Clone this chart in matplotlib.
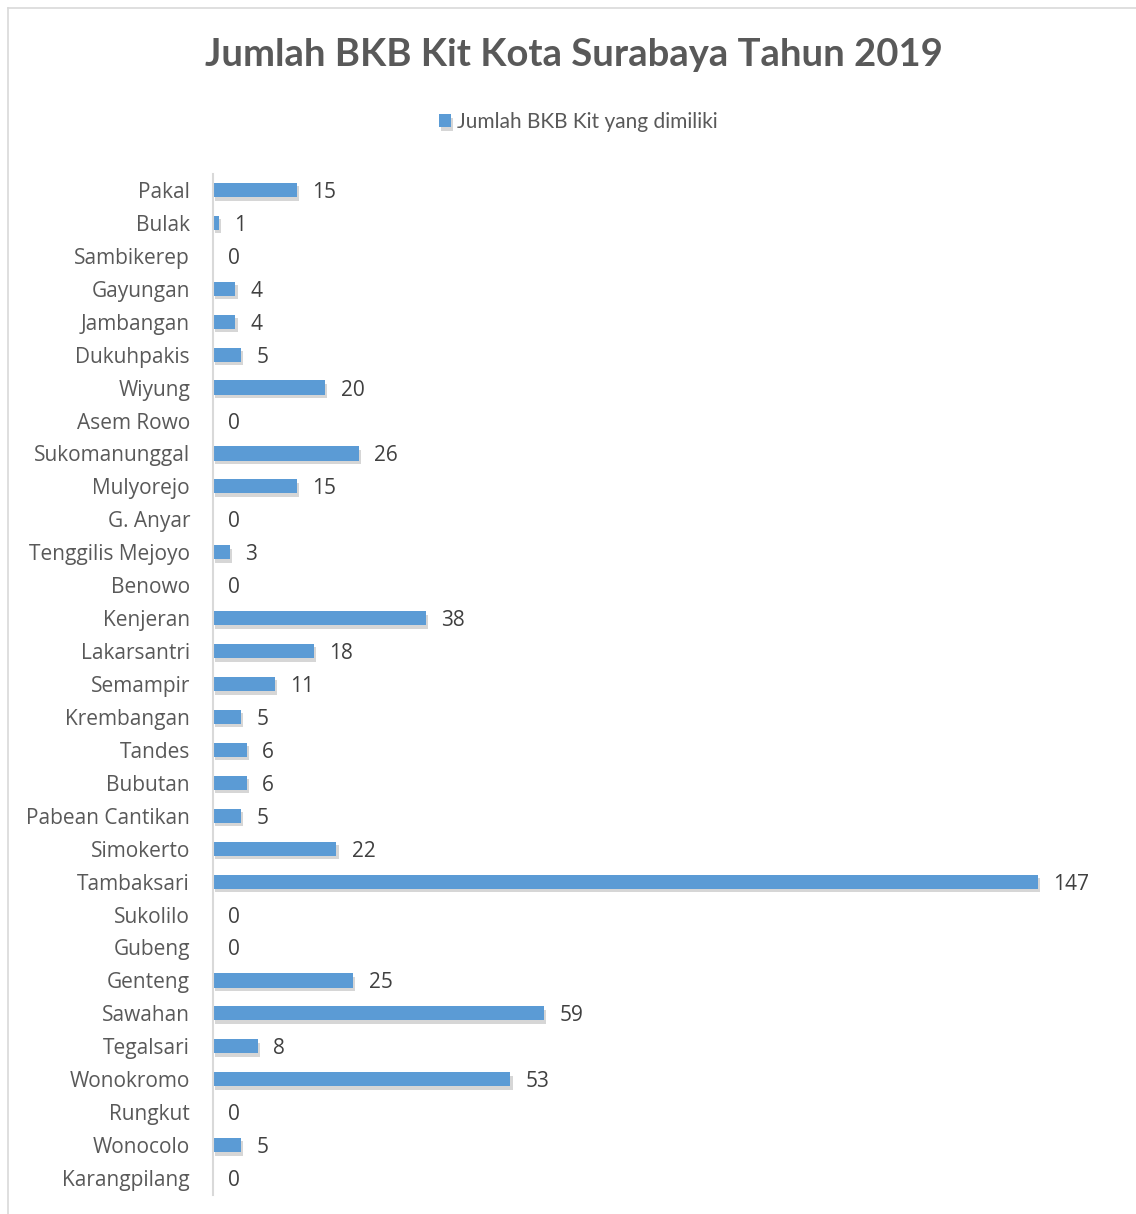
import matplotlib
matplotlib.use("Agg")
import matplotlib.pyplot as plt
from matplotlib.lines import Line2D
from matplotlib import patheffects as pe

categories = ["Pakal", "Bulak", "Sambikerep", "Gayungan", "Jambangan", "Dukuhpakis",
              "Wiyung", "Asem Rowo", "Sukomanunggal", "Mulyorejo", "G. Anyar",
              "Tenggilis Mejoyo", "Benowo", "Kenjeran", "Lakarsantri", "Semampir",
              "Krembangan", "Tandes", "Bubutan", "Pabean Cantikan", "Simokerto",
              "Tambaksari", "Sukolilo", "Gubeng", "Genteng", "Sawahan", "Tegalsari",
              "Wonokromo", "Rungkut", "Wonocolo", "Karangpilang"]
values = [15, 1, 0, 4, 4, 5, 20, 0, 26, 15, 0, 3, 0, 38, 18, 11, 5, 6, 6, 5, 22,
          147, 0, 0, 25, 59, 8, 53, 0, 5, 0]
series_name = "Jumlah BKB Kit yang dimiliki"
title = "Jumlah BKB Kit Kota Surabaya Tahun 2019"

W, H = 1136, 1214
fig = plt.figure(figsize=(W / 100, H / 100), dpi=100)
fig.patch.set_facecolor("white")

# outer border (light gray)
fig.add_artist(Line2D([8 / W, 1.0], [1 - 8 / H, 1 - 8 / H], color="#d9d9d9", lw=1.2,
                      transform=fig.transFigure))
fig.add_artist(Line2D([8 / W, 8 / W], [0, 1 - 8 / H], color="#d9d9d9", lw=1.2,
                      transform=fig.transFigure))

left, right = 213, 1120
top, bottom = 173.5, 1194.5
ax = fig.add_axes([left / W, 1 - bottom / H, (right - left) / W, (bottom - top) / H])
xmax = (right - left) / ((1038 - 213) / 147)

y = list(range(len(categories)))
bars = ax.barh(y, values, height=0.43, color="#5B9BD5", label=series_name,
               edgecolor="none")
for b in bars:
    b.set_path_effects([pe.SimplePatchShadow(offset=(1.5, -2.5), shadow_rgbFace="#8a8a8a",
                                             alpha=0.35), pe.Normal()])

ax.set_xlim(0, xmax)
ax.set_ylim(len(categories) - 0.5, -0.5)
ax.set_yticks(y)
ax.set_yticklabels(categories, fontsize=15, color="#595959", family="Open Sans")
ax.tick_params(axis="y", length=0, pad=16.5)
ax.set_xticks([])
for s in ["top", "right", "bottom"]:
    ax.spines[s].set_visible(False)
ax.spines["left"].set_color("#d9d9d9")
ax.spines["left"].set_linewidth(1.5)

texts = ax.bar_label(bars, labels=[str(v) for v in values], padding=11, fontsize=15,
                     color="#404040", family="Open Sans")
for t in texts:
    t.set_va("center_baseline")

fig.text(574 / W, 1 - 55 / H, title, ha="center", va="center", fontsize=27.5,
         fontweight="bold", color="#595959", family="Lato")

leg = fig.legend(handles=[bars], labels=[series_name], loc="center",
                 bbox_to_anchor=(578 / W, 1 - 122 / H), frameon=False,
                 prop={"family": "Lato", "size": 15}, handlelength=0.6,
                 handleheight=0.6, handletextpad=0.25)
for t in leg.get_texts():
    t.set_color("#595959")

fig.savefig("out.png", dpi=100)
